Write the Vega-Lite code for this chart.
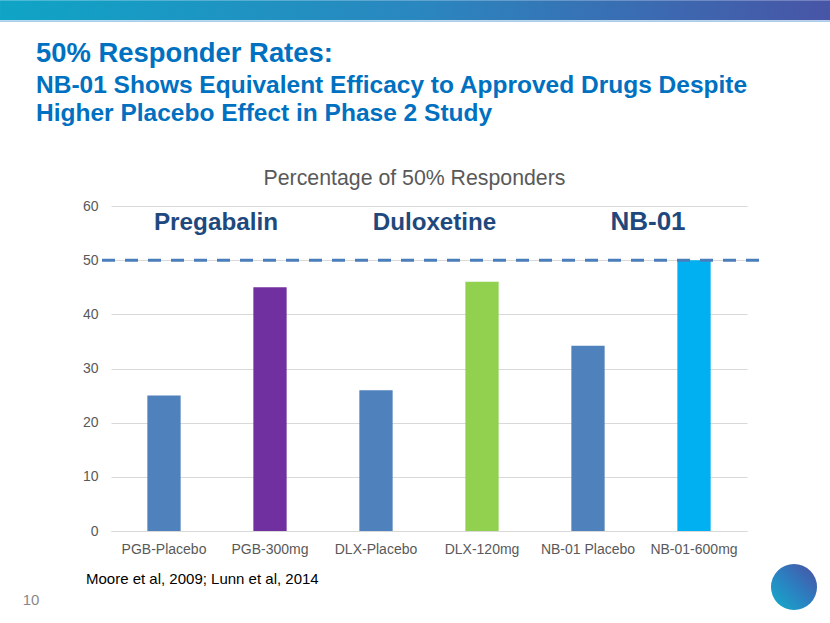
{
  "$schema": "https://vega.github.io/schema/vega-lite/v6.json",
  "width": 636,
  "height": 325,
  "autosize": {"type": "none"},
  "padding": {"left": 111, "top": 206, "right": 83, "bottom": 92},
  "background": "white",
  "config": {
    "view": {"stroke": null},
    "font": "Liberation Sans",
    "text": {"font": "Liberation Sans"},
    "axis": {"labelFont": "Liberation Sans"}
  },
  "resolve": {"scale": {"x": "independent"}},
  "layer": [
    {
      "layer": [
        {
          "data": {"values": [
            {"arm": "PGB-Placebo", "pct": 25},
            {"arm": "PGB-300mg", "pct": 45},
            {"arm": "DLX-Placebo", "pct": 26},
            {"arm": "DLX-120mg", "pct": 46},
            {"arm": "NB-01 Placebo", "pct": 34.2},
            {"arm": "NB-01-600mg", "pct": 50}
          ]},
          "mark": {"type": "bar"},
          "encoding": {
            "x": {
              "field": "arm", "type": "nominal", "sort": null,
              "scale": {"paddingInner": 0.686, "paddingOuter": 0.343},
              "axis": {"title": null, "labelAngle": 0, "labelFontSize": 14, "labelColor": "#595959",
                       "labelPadding": 11, "ticks": false, "tickSize": 0, "domainColor": "#D9D9D9", "domainWidth": 1}
            },
            "y": {
              "field": "pct", "type": "quantitative",
              "scale": {"domain": [0, 60], "nice": false, "zero": true},
              "axis": {"title": null, "values": [0, 10, 20, 30, 40, 50, 60], "gridColor": "#D9D9D9", "gridWidth": 1,
                       "domain": false, "ticks": false, "tickSize": 0, "labelPadding": 13, "labelFontSize": 14,
                       "labelColor": "#595959"}
            },
            "color": {
              "field": "arm", "type": "nominal", "legend": null,
              "scale": {
                "domain": ["PGB-Placebo", "PGB-300mg", "DLX-Placebo", "DLX-120mg", "NB-01 Placebo", "NB-01-600mg"],
                "range": ["#4F81BD", "#7030A0", "#4F81BD", "#92D050", "#4F81BD", "#00B0F0"]
              }
            }
          }
        },
        {
          "data": {"values": [{"t": "50% Responder Rates:"}]},
          "mark": {"type": "text", "align": "left", "baseline": "alphabetic", "dx": -128, "fontSize": 27.4, "fontWeight": "bold", "color": "#0070C0"},
          "encoding": {
            "x": {"datum": "PGB-Placebo", "type": "nominal"},
            "y": {"datum": 86.53, "type": "quantitative", "title": null},
            "text": {"field": "t"}
          }
        },
        {
          "data": {"values": [{"t": "NB-01 Shows Equivalent Efficacy to Approved Drugs Despite\nHigher Placebo Effect in Phase 2 Study"}]},
          "mark": {"type": "text", "align": "left", "baseline": "alphabetic", "dx": -128, "fontSize": 24.5, "fontWeight": "bold", "color": "#0070C0", "lineBreak": "\n", "lineHeight": 28.5},
          "encoding": {
            "x": {"datum": "PGB-Placebo", "type": "nominal"},
            "y": {"datum": 80.94, "type": "quantitative", "title": null},
            "text": {"field": "t"}
          }
        },
        {
          "data": {"values": [{"t": "Percentage of 50% Responders"}]},
          "mark": {"type": "text", "align": "center", "baseline": "alphabetic", "dx": 38.5, "fontSize": 21.3, "color": "#595959"},
          "encoding": {
            "x": {"datum": "DLX-Placebo", "type": "nominal"},
            "y": {"datum": 63.84, "type": "quantitative", "title": null},
            "text": {"field": "t"}
          }
        },
        {
          "data": {"values": [{"t": "Pregabalin"}]},
          "mark": {"type": "text", "align": "center", "baseline": "alphabetic", "dx": 52, "fontSize": 24.3, "fontWeight": "bold", "color": "#1F497D"},
          "encoding": {
            "x": {"datum": "PGB-Placebo", "type": "nominal"},
            "y": {"datum": 55.54, "type": "quantitative", "title": null},
            "text": {"field": "t"}
          }
        },
        {
          "data": {"values": [{"t": "Duloxetine"}]},
          "mark": {"type": "text", "align": "center", "baseline": "alphabetic", "dx": 58.5, "fontSize": 24.2, "fontWeight": "bold", "color": "#1F497D"},
          "encoding": {
            "x": {"datum": "DLX-Placebo", "type": "nominal"},
            "y": {"datum": 55.54, "type": "quantitative", "title": null},
            "text": {"field": "t"}
          }
        },
        {
          "data": {"values": [{"t": "NB-01"}]},
          "mark": {"type": "text", "align": "center", "baseline": "alphabetic", "dx": 60, "fontSize": 26, "fontWeight": "bold", "color": "#1F497D"},
          "encoding": {
            "x": {"datum": "NB-01 Placebo", "type": "nominal"},
            "y": {"datum": 55.54, "type": "quantitative", "title": null},
            "text": {"field": "t"}
          }
        },
        {
          "data": {"values": [{"t": "Moore et al, 2009; Lunn et al, 2014"}]},
          "mark": {"type": "text", "align": "left", "baseline": "alphabetic", "dx": -78, "fontSize": 15, "color": "#000000"},
          "encoding": {
            "x": {"datum": "PGB-Placebo", "type": "nominal"},
            "y": {"datum": -9.78, "type": "quantitative", "title": null},
            "text": {"field": "t"}
          }
        },
        {
          "data": {"values": [{"t": "10"}]},
          "mark": {"type": "text", "align": "center", "baseline": "alphabetic", "dx": -133, "fontSize": 15, "color": "#898989"},
          "encoding": {
            "x": {"datum": "PGB-Placebo", "type": "nominal"},
            "y": {"datum": -13.65, "type": "quantitative", "title": null},
            "text": {"field": "t"}
          }
        }
      ]
    },
    {
      "data": {"values": [{"threshold": 50}]},
      "layer": [
        {
          "mark": {"type": "rect", "stroke": null,
                   "fill": {"gradient": "linear", "x1": 0, "y1": 0, "x2": 1, "y2": 0,
                            "stops": [{"offset": 0, "color": "#0FA4C6"}, {"offset": 0.5, "color": "#2A87BF"}, {"offset": 1, "color": "#4855A7"}]}},
          "encoding": {
            "x": {"datum": -0.1745, "type": "quantitative", "scale": {"domain": [0, 1], "nice": false, "zero": false}, "axis": null},
            "x2": {"datum": 1.1305},
            "y": {"datum": 97.97, "type": "quantitative", "title": null},
            "y2": {"datum": 94.28}
          }
        },
        {
          "mark": {"type": "rule", "stroke": "#A9CDEB", "strokeWidth": 1.5},
          "encoding": {
            "x": {"datum": -0.1745, "type": "quantitative", "axis": null},
            "x2": {"datum": 1.1305},
            "y": {"datum": 94.1, "type": "quantitative", "title": null}
          }
        },
        {
          "mark": {"type": "rule", "stroke": "#4A7EBB", "strokeWidth": 3, "strokeDash": [13, 10]},
          "encoding": {
            "x": {"datum": -0.01415, "type": "quantitative", "axis": null},
            "x2": {"datum": 1.0299},
            "y": {"field": "threshold", "type": "quantitative", "title": null}
          }
        },
        {
          "mark": {"type": "point", "shape": "circle", "filled": true, "size": 2124, "opacity": 1, "strokeWidth": 0,
                   "fill": {"gradient": "linear", "x1": 0, "y1": 1, "x2": 1, "y2": 0,
                            "stops": [{"offset": 0, "color": "#12AECB"}, {"offset": 0.5, "color": "#2C7FC0"}, {"offset": 1, "color": "#4C4FA3"}]}},
          "encoding": {
            "x": {"datum": 1.0739, "type": "quantitative", "axis": null},
            "y": {"datum": -10.33, "type": "quantitative", "title": null}
          }
        }
      ]
    }
  ]
}
